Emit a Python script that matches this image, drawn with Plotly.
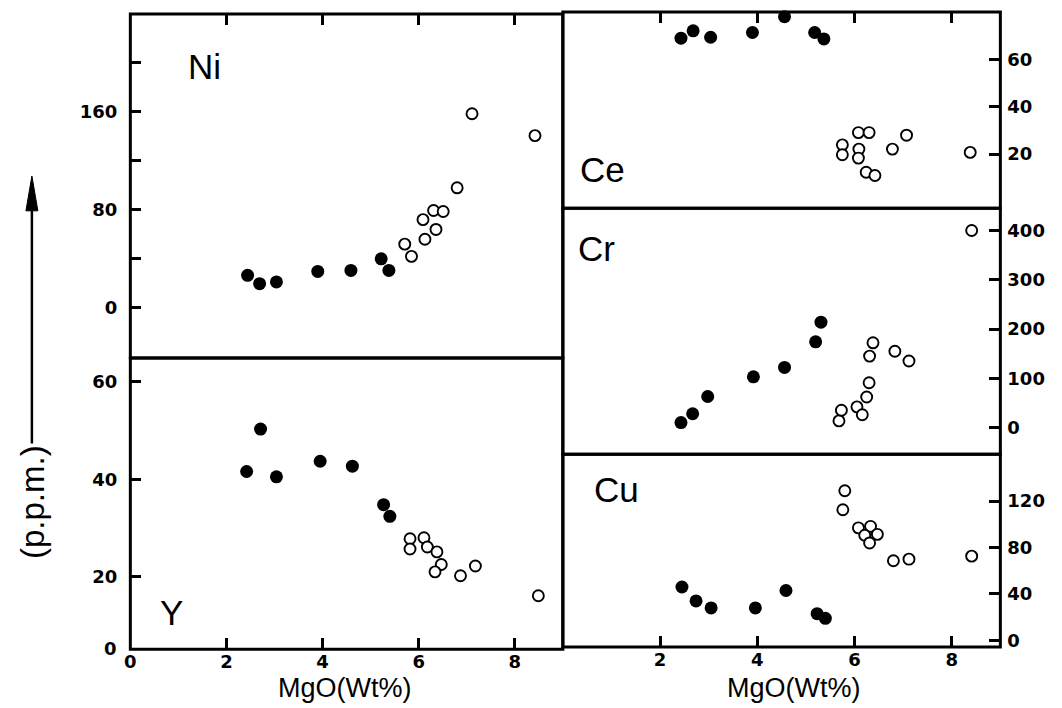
import plotly.graph_objects as go

# ---------------- data ----------------
# Ni
ni_fill_mgo = [2.44, 2.69, 3.04, 3.90, 4.59, 5.22, 5.38]
ni_fill_val = [26.5, 19.7, 21.1, 29.7, 30.5, 40.0, 30.5]
ni_open_mgo = [5.71, 5.85, 6.09, 6.13, 6.31, 6.36, 6.51, 6.80, 7.11, 8.42]
ni_open_val = [52, 42, 72, 56, 79.5, 64, 78.7, 98, 158.5, 140.6]
# Y
y_fill_mgo = [2.42, 2.71, 3.04, 3.95, 4.62, 5.27, 5.40]
y_fill_val = [41.6, 50.3, 40.5, 43.7, 42.7, 34.8, 32.4]
y_open_mgo = [5.82, 5.82, 6.11, 6.18, 6.38, 6.47, 6.34, 6.87, 7.18, 8.49]
y_open_val = [27.8, 25.7, 28.0, 26.1, 25.1, 22.5, 21.0, 20.2, 22.2, 16.1]
# Ce
ce_fill_mgo = [2.43, 2.68, 3.04, 3.90, 4.56, 5.18, 5.37]
ce_fill_val = [69.1, 72.2, 69.5, 71.5, 78.2, 71.5, 68.8]
ce_open_mgo = [5.75, 5.75, 6.08, 6.30, 6.09, 6.08, 6.24, 6.42, 6.78, 7.07, 8.38]
ce_open_val = [23.9, 19.7, 29.1, 29.1, 22.1, 18.3, 12.3, 10.9, 22.1, 28.0, 20.7]
# Cr
cr_fill_mgo = [2.43, 2.67, 2.98, 3.92, 4.56, 5.20, 5.31]
cr_fill_val = [10, 28, 63, 103, 122, 174, 214]
cr_open_mgo = [5.68, 5.73, 6.05, 6.16, 6.25, 6.30, 6.31, 6.38, 6.83, 7.12, 8.41]
cr_open_val = [13.5, 35, 42, 26, 62, 91, 145, 172, 155, 135, 400]
# Cu
cu_fill_mgo = [2.45, 2.74, 3.05, 3.96, 4.59, 5.23, 5.40]
cu_fill_val = [46, 34, 28, 28, 43, 23, 19]
cu_open_mgo = [5.80, 5.76, 6.08, 6.33, 6.21, 6.47, 6.31, 6.80, 7.12, 8.41]
cu_open_val = [129, 112.6, 97, 98.3, 90.6, 91.4, 84, 68.6, 70, 72.6]

x_ticks_left = [0, 2, 4, 6, 8]
x_ticks_right = [2, 4, 6, 8]
ni_ticks = [0, 40, 80, 120, 160, 200]
ni_ticktext = ["0", "", "80", "", "160", ""]
y_ticks = [20, 40, 60]
ce_ticks = [20, 40, 60]
cr_ticks = [0, 100, 200, 300, 400]
cu_ticks = [0, 40, 80, 120]

# ---------------- layout geometry ----------------
# The page body has an 8px margin, so the figure sits at (8, 8) in the window.
OFF = 8
W, H = 1054, 700
def fx(px): return (px - OFF) / W
def fy(py): return 1 - (py - OFF) / H

panels = [
    ("Ni", 1, (125, 560), (14, 360), [-41, 240]),
    ("Y", 2, (125, 560), (360, 653), [5.1, 64.9]),
    ("Ce", 3, (560, 1000), (12, 209.5), [-3, 80.2]),
    ("Cr", 4, (560, 1000), (209.5, 456.7), [-54, 445]),
    ("Cu", 5, (560, 1000), (456.7, 650.7), [-5.7, 160.5]),
]

data = {
    "Ni": (ni_fill_mgo, ni_fill_val, ni_open_mgo, ni_open_val),
    "Y": (y_fill_mgo, y_fill_val, y_open_mgo, y_open_val),
    "Ce": (ce_fill_mgo, ce_fill_val, ce_open_mgo, ce_open_val),
    "Cr": (cr_fill_mgo, cr_fill_val, cr_open_mgo, cr_open_val),
    "Cu": (cu_fill_mgo, cu_fill_val, cu_open_mgo, cu_open_val),
}

fig = go.Figure()
layout = dict(
    width=W, height=H,
    margin=dict(l=0, r=0, t=0, b=0),
    paper_bgcolor="white", plot_bgcolor="white",
    showlegend=False,
)

tickfont = dict(family="DejaVu Sans", size=18, color="black", weight="bold")
LW = 3
shapes = []

for name, i, (x0, x1), (ytop, ybot), yr in panels:
    sfx = "" if i == 1 else str(i)
    fm, fv, om, ov = data[name]
    fig.add_trace(go.Scatter(
        x=fm, y=fv, mode="markers", xaxis="x" + sfx, yaxis="y" + sfx,
        marker=dict(size=13, color="black", line=dict(width=0)),
        cliponaxis=False, hoverinfo="x+y"))
    fig.add_trace(go.Scatter(
        x=om, y=ov, mode="markers", xaxis="x" + sfx, yaxis="y" + sfx,
        marker=dict(size=11, color="white", line=dict(width=1.9, color="black")),
        cliponaxis=False, hoverinfo="x+y"))

    xa = dict(domain=[fx(x0), fx(x1)], range=[0, 9], anchor="y" + sfx,
              showline=False, showgrid=False, zeroline=False,
              ticks="inside", ticklen=11, tickwidth=LW, tickcolor="black",
              tickfont=tickfont, fixedrange=True)
    ya = dict(domain=[fy(ybot), fy(ytop)], range=yr, anchor="x" + sfx,
              showline=False, showgrid=False, zeroline=False,
              ticks="inside", ticklen=11, tickwidth=LW, tickcolor="black",
              tickfont=tickfont, fixedrange=True)

    if name in ("Ni", "Ce"):
        xa.update(side="top", tickvals=x_ticks_right, showticklabels=False)
    elif name == "Y":
        xa.update(side="bottom", tickvals=x_ticks_left)
    elif name == "Cu":
        xa.update(side="bottom", tickvals=x_ticks_right)
    else:
        xa.update(ticks="", showticklabels=False)

    if name == "Ni":
        ya.update(side="left", tickvals=ni_ticks, ticktext=ni_ticktext, ticklabelstandoff=12)
    elif name == "Y":
        ya.update(side="left", tickvals=y_ticks, ticklabelstandoff=12)
    elif name == "Ce":
        ya.update(side="right", tickvals=ce_ticks, ticklabelstandoff=6)
    elif name == "Cr":
        ya.update(side="right", tickvals=cr_ticks, ticklabelstandoff=6)
    else:
        ya.update(side="right", tickvals=cu_ticks, ticklabelstandoff=6)

    layout["xaxis" + sfx] = xa
    layout["yaxis" + sfx] = ya

    # panel frame
    shapes.append(dict(type="rect", xref="paper", yref="paper",
                       x0=fx(x0), x1=fx(x1), y0=fy(ybot), y1=fy(ytop),
                       line=dict(color="black", width=LW), fillcolor="rgba(0,0,0,0)",
                       layer="above"))

layout["shapes"] = shapes
fig.update_layout(**layout)

# x-axis titles
for cx in (340, 792):
    fig.add_annotation(text="MgO(Wt%)", x=fx(cx), y=fy(692), xref="paper", yref="paper",
                       showarrow=False, xanchor="center", yanchor="middle",
                       font=dict(family="Liberation Sans", size=27, color="black"))

# element labels
label_pos = {"Ni": (200, 67), "Y": (166, 616), "Ce": (600, 170), "Cr": (594, 250), "Cu": (614, 492)}
for el, (px, py) in label_pos.items():
    fig.add_annotation(text=el, x=fx(px), y=fy(py), xref="paper", yref="paper",
                       showarrow=False, xanchor="center", yanchor="middle",
                       font=dict(family="Liberation Sans", size=35, color="black"))

# origin "0" at the corner of the Y panel
fig.add_annotation(text="0", x=fx(114), y=fy(652), xref="paper", yref="paper",
                   showarrow=False, xanchor="right", yanchor="middle", font=tickfont)

# (p.p.m.) label with up arrow
fig.add_annotation(text="(p.p.m.)", x=fx(26), y=fy(505), xref="paper", yref="paper",
                   showarrow=False, textangle=-90, xanchor="center", yanchor="middle",
                   font=dict(family="Liberation Sans", size=33, color="black"))
fig.add_shape(type="line", xref="paper", yref="paper",
              x0=fx(26), x1=fx(26), y0=fy(446), y1=fy(205),
              line=dict(color="black", width=2.5))
fig.add_shape(type="path", xref="paper", yref="paper",
              path=f"M {fx(20)} {fy(212)} L {fx(32)} {fy(212)} L {fx(26)} {fy(177)} Z",
              fillcolor="black", line=dict(color="black", width=1))

fig.write_html("out.html")
